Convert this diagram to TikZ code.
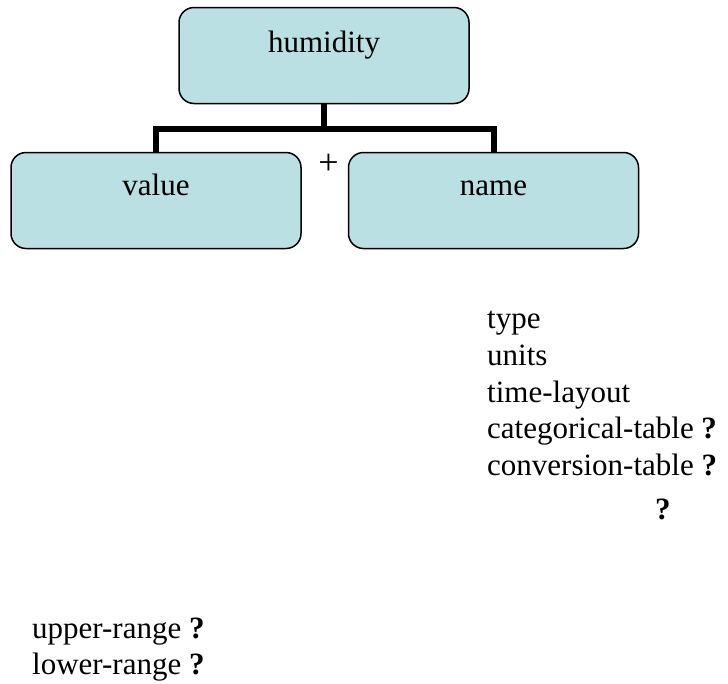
\documentclass[tikz,border=0pt]{standalone}
\usepackage{fontspec}
\setmainfont{Liberation Serif}
\definecolor{boxfill}{RGB}{187,224,227}
\begin{document}
\begin{tikzpicture}[x=1pt,y=-1pt,
  box/.style={draw=black,line width=1.5pt,fill=boxfill,rounded corners=15pt,minimum width=290pt,minimum height=96pt,inner sep=0pt},
  boxtext/.style={anchor=base,inner sep=0pt,font=\fontsize{31}{36}\selectfont},
  listtext/.style={anchor=base west,inner sep=0pt,font=\fontsize{31}{36}\selectfont},
  conn/.style={line width=6pt}]
\useasboundingbox (0,0) rectangle (728,683);
\node[box] (hum) at (324,55.5) {};
\node[box] (val) at (156,200.5) {};
\node[box] (nam) at (493.5,200.5) {};
\node[boxtext] (humt) at (324,52) {humidity};
\node[boxtext] (valt) at (156,195) {value};
\node[boxtext] (namt) at (493.5,195) {name};
\coordinate (j) at (324,129);
\draw[conn] (hum.south) -- (j);
\draw[conn] (j) -| (val.north);
\draw[conn] (j) -| (nam.north);
\node[anchor=base,inner sep=0pt,font=\fontsize{36}{40}\selectfont] (plus) at (328.5,174) {+};
\node[listtext] (l1) at (487,328) {type};
\node[listtext] (l2) at (487,365) {units};
\node[listtext] (l3) at (487,402) {time-layout};
\node[listtext] (l4) at (487,438) {categorical-table \textbf{?}};
\node[listtext] (l5) at (487,475) {conversion-table \textbf{?}};
\node[listtext] (q) at (655,519) {\textbf{?}};
\node[listtext] (u1) at (32,638) {upper-range \textbf{?}};
\node[listtext] (u2) at (32,674) {lower-range \textbf{?}};
\end{tikzpicture}
\end{document}
